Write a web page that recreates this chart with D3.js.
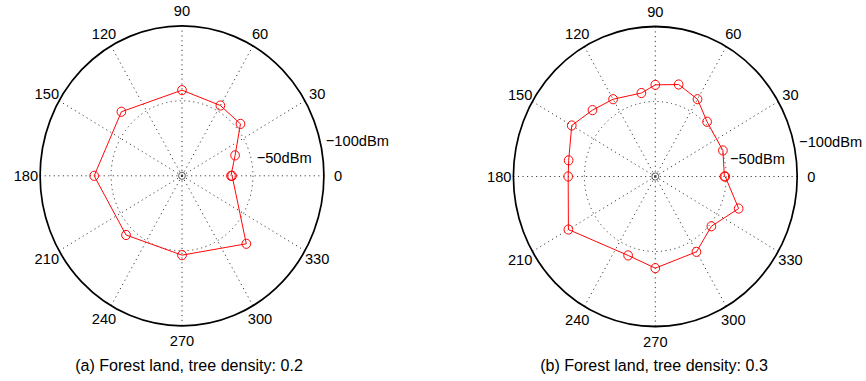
<!DOCTYPE html>
<html>
<head>
<meta charset="utf-8">
<script src="https://cdn.jsdelivr.net/npm/d3@7"></script>
<style>
  html, body { margin: 0; padding: 0; background: #fff; }
  svg { display: block; font-family: "Liberation Sans", Arial, Helvetica, sans-serif; }
</style>
</head>
<body>
<svg id="chart" width="866" height="381"></svg>
<script>
// Received signal strength (dBm) against bearing (degrees), two forest densities.
const anglesA = [0, 20, 40, 60, 90, 135, 180, 225, 270, 315, 360];
const rssiA   = [-34.5, -39.8, -53.8, -54.1, -57.1, -60.4, -61.9, -55.8, -52.9, -64.1, -35.3];

const anglesB = [0, 20, 45, 60, 75, 90, 100, 120, 135, 150, 170, 180, 210, 250, 270, 300, 320, 340, 360];
const rssiB   = [-48.7, -50.7, -51.6, -59.5, -63.5, -61.1, -56.5, -59.5, -62.6, -68, -62, -61.4, -70.7, -56, -61.1, -58, -51.6, -62.5, -49.3];

const angleTicks = [0, 30, 60, 90, 120, 150, 180, 210, 240, 270, 300, 330];
const ringValues = [50, 100];                 // radial magnitude of the rings
const ringLabels = ["\u221250dBm", "\u2212100dBm"];

const captions = ["(a) Forest land, tree density: 0.2", "(b) Forest land, tree density: 0.3"];

const panels = [
  { angles: anglesA, rssi: rssiA, cx: 182, cy: 175.8, caption: captions[0], capX: 189 },
  { angles: anglesB, rssi: rssiB, cx: 655.3, cy: 176.5, caption: captions[1], capX: 654 }
];

const R = 150;          // outer ring radius
const squeeze = 0.946;  // horizontal aspect of the figure
const rScale = d3.scaleLinear().domain([0, 100]).range([0, R]);
const toRad = deg => (90 - deg) * Math.PI / 180;   // d3 radial angle from math angle

const svg = d3.select("#chart");
svg.append("rect").attr("width", 866).attr("height", 381).attr("fill", "#fff");

panels.forEach(p => {
  const g = svg.append("g")
    .attr("transform", `translate(${p.cx},${p.cy}) scale(${squeeze},1)`);

  // dotted spokes every 30 degrees
  angleTicks.forEach(a => {
    const [x, y] = d3.pointRadial(toRad(a), rScale(100));
    g.append("line")
      .attr("x1", 0).attr("y1", 0).attr("x2", x).attr("y2", y)
      .attr("stroke", "#333").attr("stroke-width", 1)
      .attr("stroke-dasharray", "1.2 3.6");
  });

  // inner dotted ring
  g.append("circle").attr("r", rScale(ringValues[0]))
    .attr("fill", "none").attr("stroke", "#333").attr("stroke-width", 1)
    .attr("stroke-dasharray", "1.2 3.6");

  // outer solid ring
  g.append("circle").attr("r", rScale(ringValues[1]))
    .attr("fill", "none").attr("stroke", "#000").attr("stroke-width", 1.8);

  // origin marker
  g.append("circle").attr("r", 3.6)
    .attr("fill", "none").attr("stroke", "#555").attr("stroke-width", 1);

  // angle labels
  angleTicks.forEach(a => {
    const [x, y] = d3.pointRadial(toRad(a), rScale(110));
    g.append("text")
      .attr("x", x).attr("y", y)
      .attr("text-anchor", "middle").attr("dominant-baseline", "central")
      .attr("font-size", 15.5).attr("fill", "#000")
      .text(a);
  });

  // ring labels
  ringValues.forEach((v, i) => {
    const [x, y] = d3.pointRadial(toRad(13), rScale(v + 4));
    g.append("text")
      .attr("x", x).attr("y", y)
      .attr("text-anchor", "start").attr("dominant-baseline", "central")
      .attr("font-size", 15.5).attr("fill", "#000")
      .text(ringLabels[i]);
  });

  const data = p.angles.map((a, i) => ({ a, v: p.rssi[i] }));

  const line = d3.lineRadial()
    .angle(d => toRad(d.a))
    .radius(d => rScale(-d.v));

  g.append("path").datum(data)
    .attr("d", line)
    .attr("fill", "none").attr("stroke", "#ff0000").attr("stroke-width", 1);

  g.selectAll("circle.mk").data(data).enter().append("circle")
    .attr("class", "mk")
    .attr("cx", d => d3.pointRadial(toRad(d.a), rScale(-d.v))[0])
    .attr("cy", d => d3.pointRadial(toRad(d.a), rScale(-d.v))[1])
    .attr("r", 4.6)
    .attr("fill", "none").attr("stroke", "#ff0000").attr("stroke-width", 1);

  // caption
  svg.append("text")
    .attr("transform", `translate(${p.capX},365) scale(${squeeze},1)`)
    .attr("text-anchor", "middle").attr("dominant-baseline", "central")
    .attr("font-size", 17).attr("fill", "#000")
    .text(p.caption);
});
</script>
</body>
</html>
